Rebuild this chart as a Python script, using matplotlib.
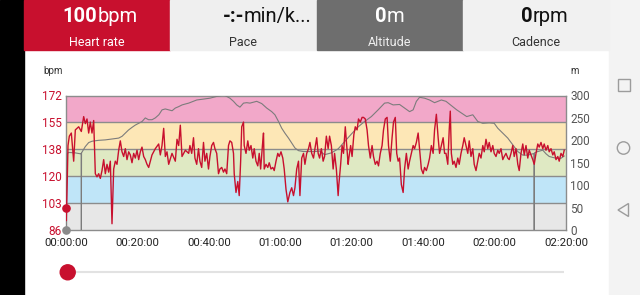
import matplotlib
matplotlib.use("Agg")
import matplotlib.pyplot as plt
from matplotlib.patches import Rectangle, Circle, Polygon
from matplotlib.ticker import FixedLocator, FuncFormatter

plt.rcParams['font.family'] = ['Roboto', 'DejaVu Sans']

# heart rate: minutes since start -> bpm
hr_min = [0.0, 0.1, 0.56, 0.93, 1.49, 2.15, 2.61, 3.55, 4.29, 4.95, 5.41, 5.88, 6.35, 6.81, 7.28, 7.75,
          8.21, 8.68, 9.15, 9.61, 10.08, 10.55, 11.01, 11.48, 11.95, 12.41, 12.88, 13.35, 13.81, 14.28,
          14.75, 15.21, 15.68, 16.15, 16.61, 17.08, 17.55, 18.01, 18.48, 18.95, 19.41, 19.88, 20.35,
          20.81, 21.28, 21.75, 22.21, 22.68, 23.15, 24.08, 25.01, 25.95, 26.41, 26.88, 27.35, 27.81,
          28.28, 28.75, 29.68, 30.61, 31.08, 31.55, 32.01, 32.48, 33.41, 34.35,
          34.7, 35.2, 35.7, 36.1, 36.6, 37.1, 37.5, 38.0, 38.5, 38.9, 39.4, 39.9, 40.3, 40.8, 41.3,
          41.7, 42.2, 42.7, 43.1, 43.6, 44.1, 44.5, 45.0, 45.5, 45.9, 46.4, 46.9, 47.1, 47.6, 48.1,
          48.5, 48.9, 49.2, 49.7, 49.9, 50.4, 50.9, 51.3, 51.8, 52.3, 52.7, 53.2, 53.7, 54.1, 54.5,
          55.0, 55.3, 55.5, 56.0, 56.5, 56.9, 57.4, 57.9, 58.3, 58.8, 59.3, 59.7, 60.2, 60.7, 61.1,
          61.6, 62.1, 62.3, 62.7, 63.2, 63.7, 64.1, 64.6, 65.1, 65.5, 66.0, 66.5, 66.9, 67.4, 67.9,
          68.3, 68.8, 69.3, 69.7, 70.2,
          70.6, 71.0, 71.5, 72.0, 72.4, 72.9, 73.4, 73.8, 74.3, 74.8, 75.2, 75.7, 76.2, 76.4, 76.9,
          77.3, 77.7, 78.2, 78.6, 79.0, 79.2, 79.7, 80.1, 80.6, 81.0, 81.5, 81.9, 82.4, 82.9, 83.3,
          83.8, 84.3, 84.7, 85.2, 85.7, 86.1, 86.6, 87.1, 87.5, 88.0, 88.5, 88.9, 89.4, 89.9, 90.3,
          90.8, 91.3, 91.7, 92.2, 92.6, 93.0, 93.4, 93.9, 94.4, 94.8, 95.3, 95.8, 96.2, 96.7, 97.2,
          97.6, 98.1, 98.6, 99.0, 99.5, 100.0, 100.4, 100.9, 101.4, 101.8, 102.3, 102.8, 103.2, 103.7,
          104.2, 104.6, 105.1, 105.6, 106.0,
          106.4, 106.9, 107.3, 107.6, 107.9, 108.3, 108.7, 109.2, 109.7, 110.1, 110.6, 111.1, 111.5,
          112.0, 112.5, 112.9, 113.4, 113.9, 114.3, 114.8, 115.3, 115.7, 116.2, 116.7, 117.1, 117.6,
          118.1, 118.5, 119.0, 119.5, 119.9, 120.4, 120.9, 121.3, 121.8, 122.3, 122.7, 123.2, 123.7,
          124.1, 124.6, 125.1, 125.5, 126.0, 126.5, 126.9, 127.4, 127.9, 128.3, 128.8, 129.3, 129.7,
          130.2, 130.7, 131.1, 131.6, 132.1, 132.5, 133.0, 133.5, 133.9, 134.4, 134.9, 135.3, 135.8,
          136.3, 136.7, 137.2, 137.7, 138.1, 138.6, 139.1, 139.5]
hr_bpm = [100, 92, 140, 146, 148, 130, 150, 152, 149, 158.5, 154, 157, 148, 155, 148, 156,
          122, 120, 122, 119, 124, 131, 122, 128, 123, 130, 90, 125, 130, 128,
          137, 143, 136, 133, 138, 131, 136, 134, 129, 135, 132, 137, 131,
          136, 139, 133, 131, 128, 126, 134, 138, 141, 134, 140, 151, 133,
          136, 128, 135, 130, 144, 140, 153, 133, 137, 135,
          140, 135, 145, 132, 128, 138, 130, 126, 142, 130, 135, 125, 133, 140, 142,
          138, 135, 122, 125, 126, 123, 125, 122, 140, 143, 142, 135, 122, 110, 117,
          108, 130, 152, 155, 140, 135, 143, 137, 140, 132, 138, 130, 127, 135, 125,
          140, 148, 125, 128, 126, 129, 125, 126, 124, 130, 135, 133, 136, 132, 125,
          112, 104, 106, 110, 113, 108, 113, 125, 130, 108, 132, 135, 128, 135, 138,
          142, 135, 132, 138, 145,
          135, 132, 138, 130, 133, 146, 138, 146, 140, 125, 135, 125, 108, 115, 128,
          140, 135, 152, 140, 128, 132, 140, 133, 147, 152, 150, 157, 155, 158, 158,
          157, 150, 140, 132, 140, 133, 128, 130, 127, 135, 140, 150, 157, 158, 140,
          130, 145, 155, 158, 135, 130, 132, 115, 110, 125, 135, 125, 130, 135, 140,
          138, 142, 148, 138, 125, 122, 126, 124, 128, 132, 140, 135, 150, 160,
          145, 135, 140, 145, 135,
          135, 128, 150, 162, 135, 128, 130, 126, 132, 128, 135, 140, 145,
          140, 135, 143, 133, 138, 128, 124, 130, 135, 132, 140, 136, 144,
          138, 142, 136, 140, 135, 133, 137, 135, 138, 131, 133, 135, 132,
          131, 135, 140, 133, 138, 128, 124, 135, 141, 134, 140, 132, 137,
          134, 131, 128, 135, 141, 139, 142, 138, 141, 137, 140, 136, 138,
          134, 136, 131, 133, 130, 135, 133, 137]

# altitude: minutes since start -> metres (zeros are GPS dropouts)
alt_min = [0.0, 0.3, 0.75, 2.6, 4.0, 4.25, 4.3, 4.35, 5.4, 6.35, 7.3, 9.1, 11.0, 12.9, 14.75, 15.7,
           16.6, 17.5, 18.5, 19.4, 21.3, 22.2, 23.1, 24.1, 25.0, 26.0, 26.9, 27.8, 28.75, 29.7,
           30.6, 31.5, 32.5, 33.4, 34.35, 36.6, 38.5, 40.3, 42.2, 43.6, 44.5, 45.9, 46.9, 47.8,
           48.7, 49.7, 50.6, 51.5, 53.4, 54.8, 56.2, 57.6, 58.5, 59.5, 60.4, 61.3, 62.3, 63.2,
           64.1, 65.1, 66.5, 68.3, 69.7, 71.1, 72.4, 74.3, 76.2, 78.0, 79.9, 81.8, 83.6, 85.5,
           87.4, 89.2, 90.2, 91.6, 93.4, 94.8, 96.2, 97.2, 98.1, 99.0, 100.4, 101.8, 103.2, 105.1,
           106.4, 109.4, 112.2, 113.9, 115.3, 116.7, 118.5, 119.9, 120.9, 122.3, 123.7, 125.1,
           126.5, 127.9, 129.3, 130.7, 131.05, 131.1, 131.15, 132.1, 133.5, 134.4, 135.3, 137.2,
           138.6, 139.5]
alt_m = [0, 170, 173, 172, 170, 171, 0, 172, 186, 195, 198, 200, 201, 203, 205, 209,
         216, 223, 229, 234, 242, 250, 246, 246, 250, 257, 268, 270, 268, 266,
         272, 275, 279, 281, 283, 290, 292, 294, 298, 300, 300, 294, 287, 279,
         274, 283, 284, 283, 287, 282, 272, 264, 257, 242, 227, 216, 205, 194,
         183, 177, 175, 175, 175, 176, 168, 172, 181, 197, 214, 230, 242, 253,
         268, 283, 284, 279, 280, 272, 264, 268, 287, 296, 294, 290, 284, 290,
         287, 268, 253, 257, 242, 238, 239, 238, 227, 216, 205, 190,
         175, 167, 167, 170, 170, 0, 172, 175, 178, 170, 164, 160,
         160, 165]

zone_edges = [86, 103.2, 120.4, 137.6, 154.8, 172]
zone_colors = ['#e7e7e7', '#bfe5f8', '#dfe9c3', '#fde7b6', '#f2a8c9']
bpm_ticks = [86, 103.2, 120.4, 137.6, 154.8, 172]
bpm_labels = ['86', '103', '120', '138', '155', '172']
alt_ticks = [0, 50, 100, 150, 200, 250, 300]
time_ticks = [0, 20, 40, 60, 80, 100, 120, 140]

tile_big = [('100', 'bpm'), ('-:-', 'min/k...'), ('0', 'm'), ('0', 'rpm')]
tile_small = ['Heart rate', 'Pace', 'Altitude', 'Cadence']
tile_bg = ['#c8102e', '#efefef', '#6e6e6e', '#f1f1f1']
tile_fg = ['white', '#111111', 'white', '#111111']
tile_sub = ['white', '#333333', '#eeeeee', '#333333']

RED = '#c8102e'

fig = plt.figure(figsize=(6.4, 2.95), dpi=100)

# screen chrome in pixel coordinates
bg = fig.add_axes([0, 0, 1, 1])
bg.set_xlim(0, 640)
bg.set_ylim(295, 0)
bg.axis('off')
bg.add_patch(Rectangle((0, 0), 24, 295, color='black'))
bg.add_patch(Rectangle((609, 0), 31, 295, color='#f3f3f3'))

tile_w = (609 - 24) / 4
centers = [100, 267, 390, 545]
r = fig.canvas.get_renderer()
for i in range(4):
    x0 = 24 + i * tile_w
    bg.add_patch(Rectangle((x0, 0), tile_w, 50, color=tile_bg[i]))
    a = bg.text(0, 22, tile_big[i][0], fontsize=14.5, fontweight='bold', color=tile_fg[i], va='baseline')
    b = bg.text(0, 22, tile_big[i][1], fontsize=14.5, color=tile_fg[i], va='baseline')
    wa = a.get_window_extent(r).width
    wb = b.get_window_extent(r).width
    start = centers[i] - (wa + wb) / 2
    a.set_x(start)
    b.set_x(start + wa)
    bg.text(x0 + tile_w / 2, 45.5, tile_small[i], fontsize=9, color=tile_sub[i], ha='center', va='baseline')

# android nav buttons
nav = '#9c9c9c'
bg.add_patch(Rectangle((617.5, 79), 12, 12, fill=False, ec=nav, lw=1))
bg.add_patch(Circle((623.5, 148), 6.2, fill=False, ec=nav, lw=1))
bg.add_patch(Polygon([(618, 210), (628.5, 203.5), (628.5, 216.5)], closed=True, fill=False, ec=nav, lw=1))

# slider
bg.plot([67, 564], [272, 272], color='#e2e2e2', lw=1.5, solid_capstyle='butt', zorder=2)
bg.add_patch(Circle((67.7, 272.3), 7.5, color=RED, zorder=3))

bg.text(53, 71, 'bpm', fontsize=7, color='#333333', ha='center', va='center')
bg.text(575, 71, 'm', fontsize=7, color='#333333', ha='center', va='center')

# chart
ax = fig.add_axes([66 / 640, 1 - 230 / 295, 500 / 640, 134.5 / 295])
ax.set_xlim(0, 140)
ax.set_ylim(zone_edges[0], zone_edges[-1])
for lo, hi, c in zip(zone_edges[:-1], zone_edges[1:], zone_colors):
    ax.axhspan(lo, hi, color=c, lw=0, zorder=0)
for e in zone_edges[1:-1]:
    ax.axhline(e, color='#8c8c8c', lw=1, zorder=1)
for s in ax.spines.values():
    s.set_color('#8c8c8c')
    s.set_linewidth(1)
ax.yaxis.set_major_locator(FixedLocator(bpm_ticks))
ax.set_yticklabels(bpm_labels)
ax.xaxis.set_major_locator(FixedLocator(time_ticks))
ax.xaxis.set_major_formatter(FuncFormatter(lambda v, p: f'{int(v) // 60:02d}:{int(v) % 60:02d}:00'))
ax.tick_params(axis='y', length=0, pad=3, labelsize=8.5, labelcolor=RED)
ax.tick_params(axis='x', length=0, pad=5.5, labelsize=8.2, labelcolor='#222222')

ax_alt = ax.twinx()
ax_alt.set_ylim(0, 300)
ax_alt.yaxis.set_major_locator(FixedLocator(alt_ticks))
ax_alt.tick_params(axis='y', length=0, pad=3, labelsize=8.5, labelcolor='#555555')
for s in ax_alt.spines.values():
    s.set_visible(False)
ax_alt.plot(alt_min, alt_m, color='#7c7c7c', lw=0.8)
ax_alt.plot(alt_min[:1], alt_m[:1], 'o', ms=5.2, color='#8a8a8a', clip_on=False, zorder=5)

ax_hr = ax.twinx()
ax_hr.set_ylim(zone_edges[0], zone_edges[-1])
ax_hr.set_yticks([])
for s in ax_hr.spines.values():
    s.set_visible(False)
ax_hr.plot(hr_min, hr_bpm, color=RED, lw=1.0)
ax_hr.plot(hr_min[:1], hr_bpm[:1], 'o', ms=5.2, color=RED, clip_on=False, zorder=5)

fig.savefig('out.png', dpi=100)
